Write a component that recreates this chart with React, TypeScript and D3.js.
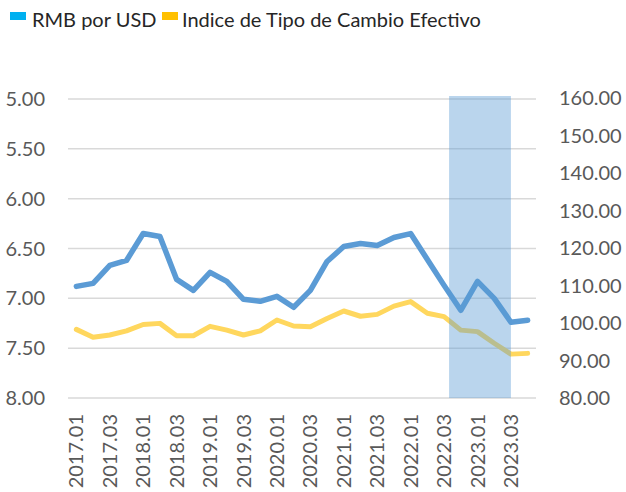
import React from "react";
import * as d3 from "d3";

const categories: string[] = [];
for (let y = 2017; y <= 2023; y++) for (let q = 1; q <= 4; q++) categories.push(`${y}.0${q}`);

const rmbPerUsd = [
  6.88, 6.85, 6.67, 6.62, 6.35, 6.38, 6.81, 6.92, 6.74, 6.83, 7.01, 7.03, 6.98, 7.09,
  6.92, 6.63, 6.48, 6.45, 6.47, 6.39, 6.35, 6.61, 6.87, 7.12, 6.83, 7.0, 7.24, 7.22,
];
const effectiveIndex = [
  98.3, 96.2, 96.8, 97.9, 99.6, 99.9, 96.6, 96.6, 99.1, 98.1, 96.8, 97.9, 100.8, 99.2,
  99.0, 101.2, 103.2, 101.8, 102.3, 104.5, 105.7, 102.6, 101.7, 98.1, 97.7, 94.6, 91.7, 91.9,
];
const leftTicks = [5, 5.5, 6, 6.5, 7, 7.5, 8];
const rightTicks = [80, 90, 100, 110, 120, 130, 140, 150, 160];
const seriesNames = ["RMB por USD", "Indice de Tipo de Cambio Efectivo"];
// highlighted period (in category-index units)
const shadeRange = [22.8, 26.5];

const W = 626, H = 492;
const L = 68, R = 536, T = 99, B = 398;
const FONT = "Lato, 'Open Sans', sans-serif";

export default function App() {
  const x = d3.scaleBand<string>().domain(categories).range([L, R]).padding(0);
  const bw = x.bandwidth();
  const cx = (c: string) => (x(c) as number) + bw / 2;
  const xi = d3.scaleLinear().domain([0, categories.length]).range([L, R]);
  const yL = d3.scaleLinear().domain([5, 8]).range([T, B]);
  const yR = d3.scaleLinear().domain([80, 160]).range([B, T - 1]);

  const lineL = d3.line<number>().x((_, i) => cx(categories[i])).y((d) => yL(d));
  const lineR = d3.line<number>().x((_, i) => cx(categories[i])).y((d) => yR(d));

  return (
    <svg width={W} height={H} style={{ position: "absolute", left: 0, top: 0, background: "#fff" }}>
      {/* legend */}
      <rect x={10} y={12} width={16} height={8} fill="#00b0f0" />
      <text x={32} y={27} fontFamily={FONT} fontSize={20} fill="#262626">{seriesNames[0]}</text>
      <rect x={162} y={12} width={16} height={8} fill="#ffc000" />
      <text x={182} y={27} fontFamily={FONT} fontSize={20} fill="#262626">{seriesNames[1]}</text>

      {/* gridlines */}
      {leftTicks.map((t) => (
        <line key={t} x1={L} x2={R} y1={yL(t)} y2={yL(t)} stroke="#d9d9d9" strokeWidth={1.5} />
      ))}
      {/* left ticks */}
      {leftTicks.map((t) => (
        <text key={t} x={45} y={yL(t)} dy="0.35em" textAnchor="end" fontFamily={FONT} fontSize={20} fill="#595959">
          {d3.format(".2f")(t)}
        </text>
      ))}
      {/* right ticks */}
      {rightTicks.map((t) => (
        <text key={t} x={559} y={yR(t)} dy="0.35em" textAnchor="start" fontFamily={FONT} fontSize={20} fill="#595959">
          {d3.format(".2f")(t)}
        </text>
      ))}
      {/* x labels */}
      {categories.map((c, i) =>
        i % 2 === 0 ? (
          <text key={c} transform={`translate(${cx(c)},${B + 16}) rotate(-90)`} dy="0.35em" textAnchor="end"
            fontFamily={FONT} fontSize={20} fill="#595959">
            {c}
          </text>
        ) : null
      )}

      <path d={lineR(effectiveIndex) || ""} fill="none" stroke="#ffd75e" strokeWidth={5} strokeLinejoin="round" strokeLinecap="round" />
      <path d={lineL(rmbPerUsd) || ""} fill="none" stroke="#5b9bd5" strokeWidth={5.5} strokeLinejoin="round" strokeLinecap="round" />

      {/* highlighted period */}
      <rect x={xi(shadeRange[0])} width={xi(shadeRange[1]) - xi(shadeRange[0])} y={T - 3} height={B - T + 3}
        fill="#5b9bd5" fillOpacity={0.42} />
    </svg>
  );
}
